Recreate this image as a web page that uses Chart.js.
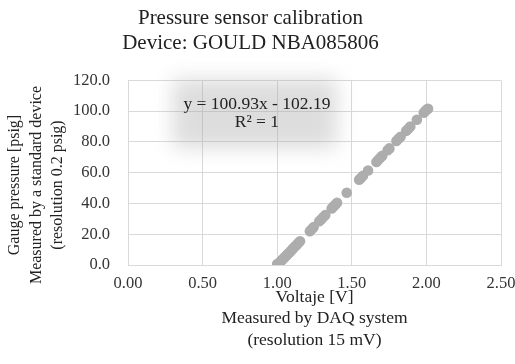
<!DOCTYPE html>
<html>
<head>
<meta charset="utf-8">
<script src="https://cdn.jsdelivr.net/npm/chart.js@4/dist/chart.umd.min.js"></script>
<style>
  html, body { margin: 0; padding: 0; background: #fff; }
  #wrap { width: 515px; height: 364px; position: relative; }
</style>
</head>
<body>
<div id="wrap"><canvas id="c" width="515" height="364"></canvas></div>
<script>
// Data
const voltage = [1.000,1.008,1.016,1.026,1.034,1.044,1.052,1.062,1.070,1.080,1.090,1.100,1.109,1.121,1.131,1.143,1.153,
  1.219,1.233,1.244,1.282,1.294,1.308,1.322,1.365,1.377,1.389,1.401,1.466,1.549,1.561,1.575,1.609,
  1.665,1.678,1.692,1.704,1.740,1.752,1.799,1.813,1.827,1.865,1.879,1.892,1.936,1.982,1.992,2.001,2.011];
const pressure = [0.6,0.8,1.6,2.6,3.4,4.4,5.2,6.2,7.0,8.0,9.0,10.0,11.0,12.2,13.2,14.4,15.4,
  22.0,23.4,24.6,28.4,29.6,31.0,32.4,36.8,38.0,39.2,40.4,47.0,55.4,56.6,58.0,61.4,
  67.0,68.4,69.8,71.0,74.6,75.8,80.6,82.0,83.4,87.2,88.6,90.0,94.4,99.0,100.0,101.0,101.6];
const xTicks = [0, 0.5, 1.0, 1.5, 2.0, 2.5];
const yTicks = [0, 20, 40, 60, 80, 100, 120];
const titleLines = ["Pressure sensor calibration", "Device: GOULD NBA085806"];
const xTitleLines = ["Voltaje [V]", "Measured by DAQ system", "(resolution 15 mV)"];
const yTitleLines = ["Gauge pressure [psig]", "Measured by a standard device", "(resolution 0.2 psig)"];
const trendLines = ["y = 100.93x - 102.19", "R\u00B2 = 1"];

const FONT = "'Liberation Serif', 'Times New Roman', serif";

const annot = {
  id: 'annot',
  beforeDatasetsDraw(chart) {
    const ctx = chart.ctx;
    const xs = chart.scales.x, ys = chart.scales.y;
    ctx.save();
    ctx.filter = 'blur(10px)';
    ctx.fillStyle = 'rgba(165,165,165,0.38)';
    const x0 = xs.getPixelForValue(0.3), x1 = xs.getPixelForValue(1.4);
    const y0 = ys.getPixelForValue(121), y1 = ys.getPixelForValue(76);
    ctx.fillRect(x0, y0, x1 - x0, y1 - y0);
    ctx.restore();
  },
  afterDatasetsDraw(chart) {
    const ctx = chart.ctx;
    const xs = chart.scales.x, ys = chart.scales.y;
    ctx.save();
    ctx.fillStyle = '#222';
    ctx.font = '17.5px ' + FONT;
    ctx.textAlign = 'center';
    ctx.textBaseline = 'middle';
    const cx = xs.getPixelForValue(0.864);
    ctx.fillText(trendLines[0], cx, ys.getPixelForValue(104.5));
    ctx.fillText(trendLines[1], cx, ys.getPixelForValue(92.4));
    ctx.restore();
  },
  afterDraw(chart) {
    // rotated y-axis title (three lines)
    const ctx = chart.ctx;
    const ys = chart.scales.y;
    const cy = ys.getPixelForValue(52);
    ctx.save();
    ctx.fillStyle = '#222';
    ctx.font = '16px ' + FONT;
    ctx.textAlign = 'center';
    ctx.textBaseline = 'middle';
    const cols = [15, 36.5, 58];
    yTitleLines.forEach((t, i) => {
      ctx.save();
      ctx.translate(cols[i], cy);
      ctx.rotate(-Math.PI / 2);
      ctx.fillText(t, 0, 0);
      ctx.restore();
    });
    ctx.restore();
  }
};

new Chart(document.getElementById('c'), {
  type: 'scatter',
  data: {
    datasets: [{
      data: voltage.map((v, i) => ({ x: v, y: pressure[i] })),
      backgroundColor: '#adadad',
      borderWidth: 0,
      pointRadius: 5.3,
      pointHoverRadius: 5.3
    }]
  },
  options: {
    responsive: false,
    animation: false,
    devicePixelRatio: 1,
    layout: { padding: { left: 0, right: 14, top: 0, bottom: 0 } },
    plugins: {
      legend: { display: false },
      tooltip: { enabled: false },
      title: {
        display: true,
        text: titleLines,
        color: '#222',
        font: { family: FONT, size: 21, weight: 'normal', lineHeight: 1.2 },
        padding: { top: 6, bottom: 24 }
      }
    },
    scales: {
      x: {
        type: 'linear',
        min: 0, max: 2.5,
        afterBuildTicks(scale) { scale.ticks = xTicks.map(v => ({ value: v })); },
        ticks: { color: '#333', font: { family: FONT, size: 16.5 }, padding: 9,
                 callback: v => Number(v).toFixed(2) },
        grid: { color: '#d9d9d9', drawTicks: false },
        border: { color: '#d9d9d9' },
        title: { display: true, text: xTitleLines, color: '#222',
                 font: { family: FONT, size: 17.5, lineHeight: 1.23 }, padding: { top: 0, bottom: 13 } },
        afterFit(scale) { scale.height = 99; scale.paddingRight = 0; scale.paddingLeft = 0; }
      },
      y: {
        min: 0, max: 120,
        afterBuildTicks(scale) { scale.ticks = yTicks.map(v => ({ value: v })); },
        ticks: { color: '#333', font: { family: FONT, size: 16.5 }, padding: 18,
                 callback: v => Number(v).toFixed(1) },
        grid: { color: '#d9d9d9', drawTicks: false },
        border: { color: '#d9d9d9' },
        title: { display: false },
        afterFit(scale) { scale.width = 128; scale.paddingTop = 0; scale.paddingBottom = 0; }
      }
    }
  },
  plugins: [annot]
});
</script>
</body>
</html>
